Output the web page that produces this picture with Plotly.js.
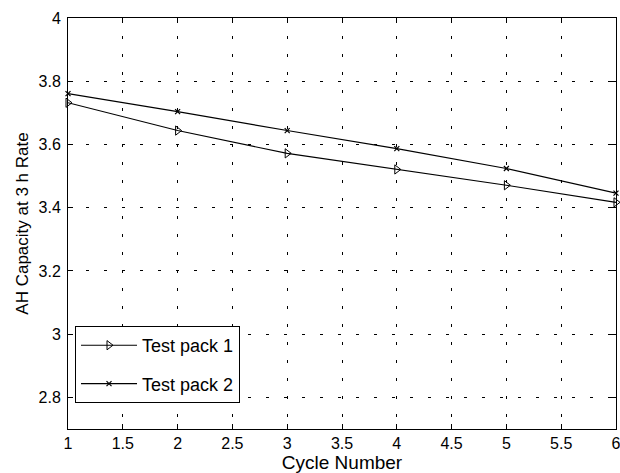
<!DOCTYPE html>
<html><head><meta charset="utf-8">
<script src="https://cdn.plot.ly/plotly-3.0.1.min.js"></script>
<style>html,body{margin:0;padding:0;background:#fff}</style>
</head><body>
<div id="plot" style="width:620px;height:473px"></div>
<script>
var cycles = [1, 2, 3, 4, 5, 6];
var pack1 = [3.732, 3.644, 3.572, 3.521, 3.471, 3.417];
var pack2 = [3.761, 3.704, 3.644, 3.587, 3.524, 3.446];
var seriesNames = ["Test pack 1", "Test pack 2"];
var xTickVals = [1, 1.5, 2, 2.5, 3, 3.5, 4, 4.5, 5, 5.5, 6];
var xTickText = ["1", "1.5", "2", "2.5", "3", "3.5", "4", "4.5", "5", "5.5", "6"];
var yTickVals = [2.8, 3, 3.2, 3.4, 3.6, 3.8, 4];
var yTickText = ["2.8", "3", "3.2", "3.4", "3.6", "3.8", "4"];

var FONT = "Liberation Sans, Arial, Helvetica, sans-serif";

var traces = [
  {x: cycles, y: pack1, name: seriesNames[0], mode: "lines+markers", legendgroup: "a",
   line: {color: "#000", width: 1.1},
   marker: {symbol: "triangle-right-open", size: 8, color: "#000", line: {width: 1, color: "#000"}},
   cliponaxis: false},
  {x: cycles, y: pack2, name: seriesNames[1], mode: "lines+markers", legendgroup: "b",
   line: {color: "#000", width: 1.1},
   marker: {symbol: "x-thin-open", size: 5, color: "#000", line: {width: 1.2, color: "#000"}},
   cliponaxis: false}
];

var axisCommon = {
  showline: true, linecolor: "#000", linewidth: 1, mirror: "ticks",
  ticks: "inside", ticklen: 5, tickcolor: "#000",
  showgrid: true, gridcolor: "#000", gridwidth: 1, griddash: "3px,15px",
  zeroline: false, ticklabeloverflow: "allow",
  tickfont: {family: FONT, size: 16, color: "#000"}
};

var layout = {
  width: 620, height: 473,
  margin: {l: 68, r: 4, t: 18, b: 44},
  paper_bgcolor: "#fff", plot_bgcolor: "#fff",
  showlegend: true,
  xaxis: Object.assign({}, axisCommon, {
    range: [0.9999, 6.0001], tickmode: "array", tickvals: xTickVals, ticktext: xTickText,
    title: {text: "Cycle Number", standoff: 2, font: {family: FONT, size: 19, color: "#000"}}
  }),
  yaxis: Object.assign({}, axisCommon, {
    range: [2.7, 4.0001], tickmode: "array", tickvals: yTickVals, ticktext: yTickText,
    ticklabelstandoff: 3,
    title: {text: "AH Capacity at 3 h Rate", standoff: 5, font: {family: FONT, size: 17, color: "#000"}}
  }),
  legend: {
    x: 0.0128, y: 0.2506, xanchor: "left", yanchor: "top",
    bgcolor: "#fff", bordercolor: "#000", borderwidth: 1,
    tracegroupgap: 12, itemwidth: 56,
    font: {family: FONT, size: 18, color: "#000"}
  }
};

Plotly.newPlot("plot", traces, layout, {displayModeBar: false, staticPlot: true});
</script>
</body></html>
